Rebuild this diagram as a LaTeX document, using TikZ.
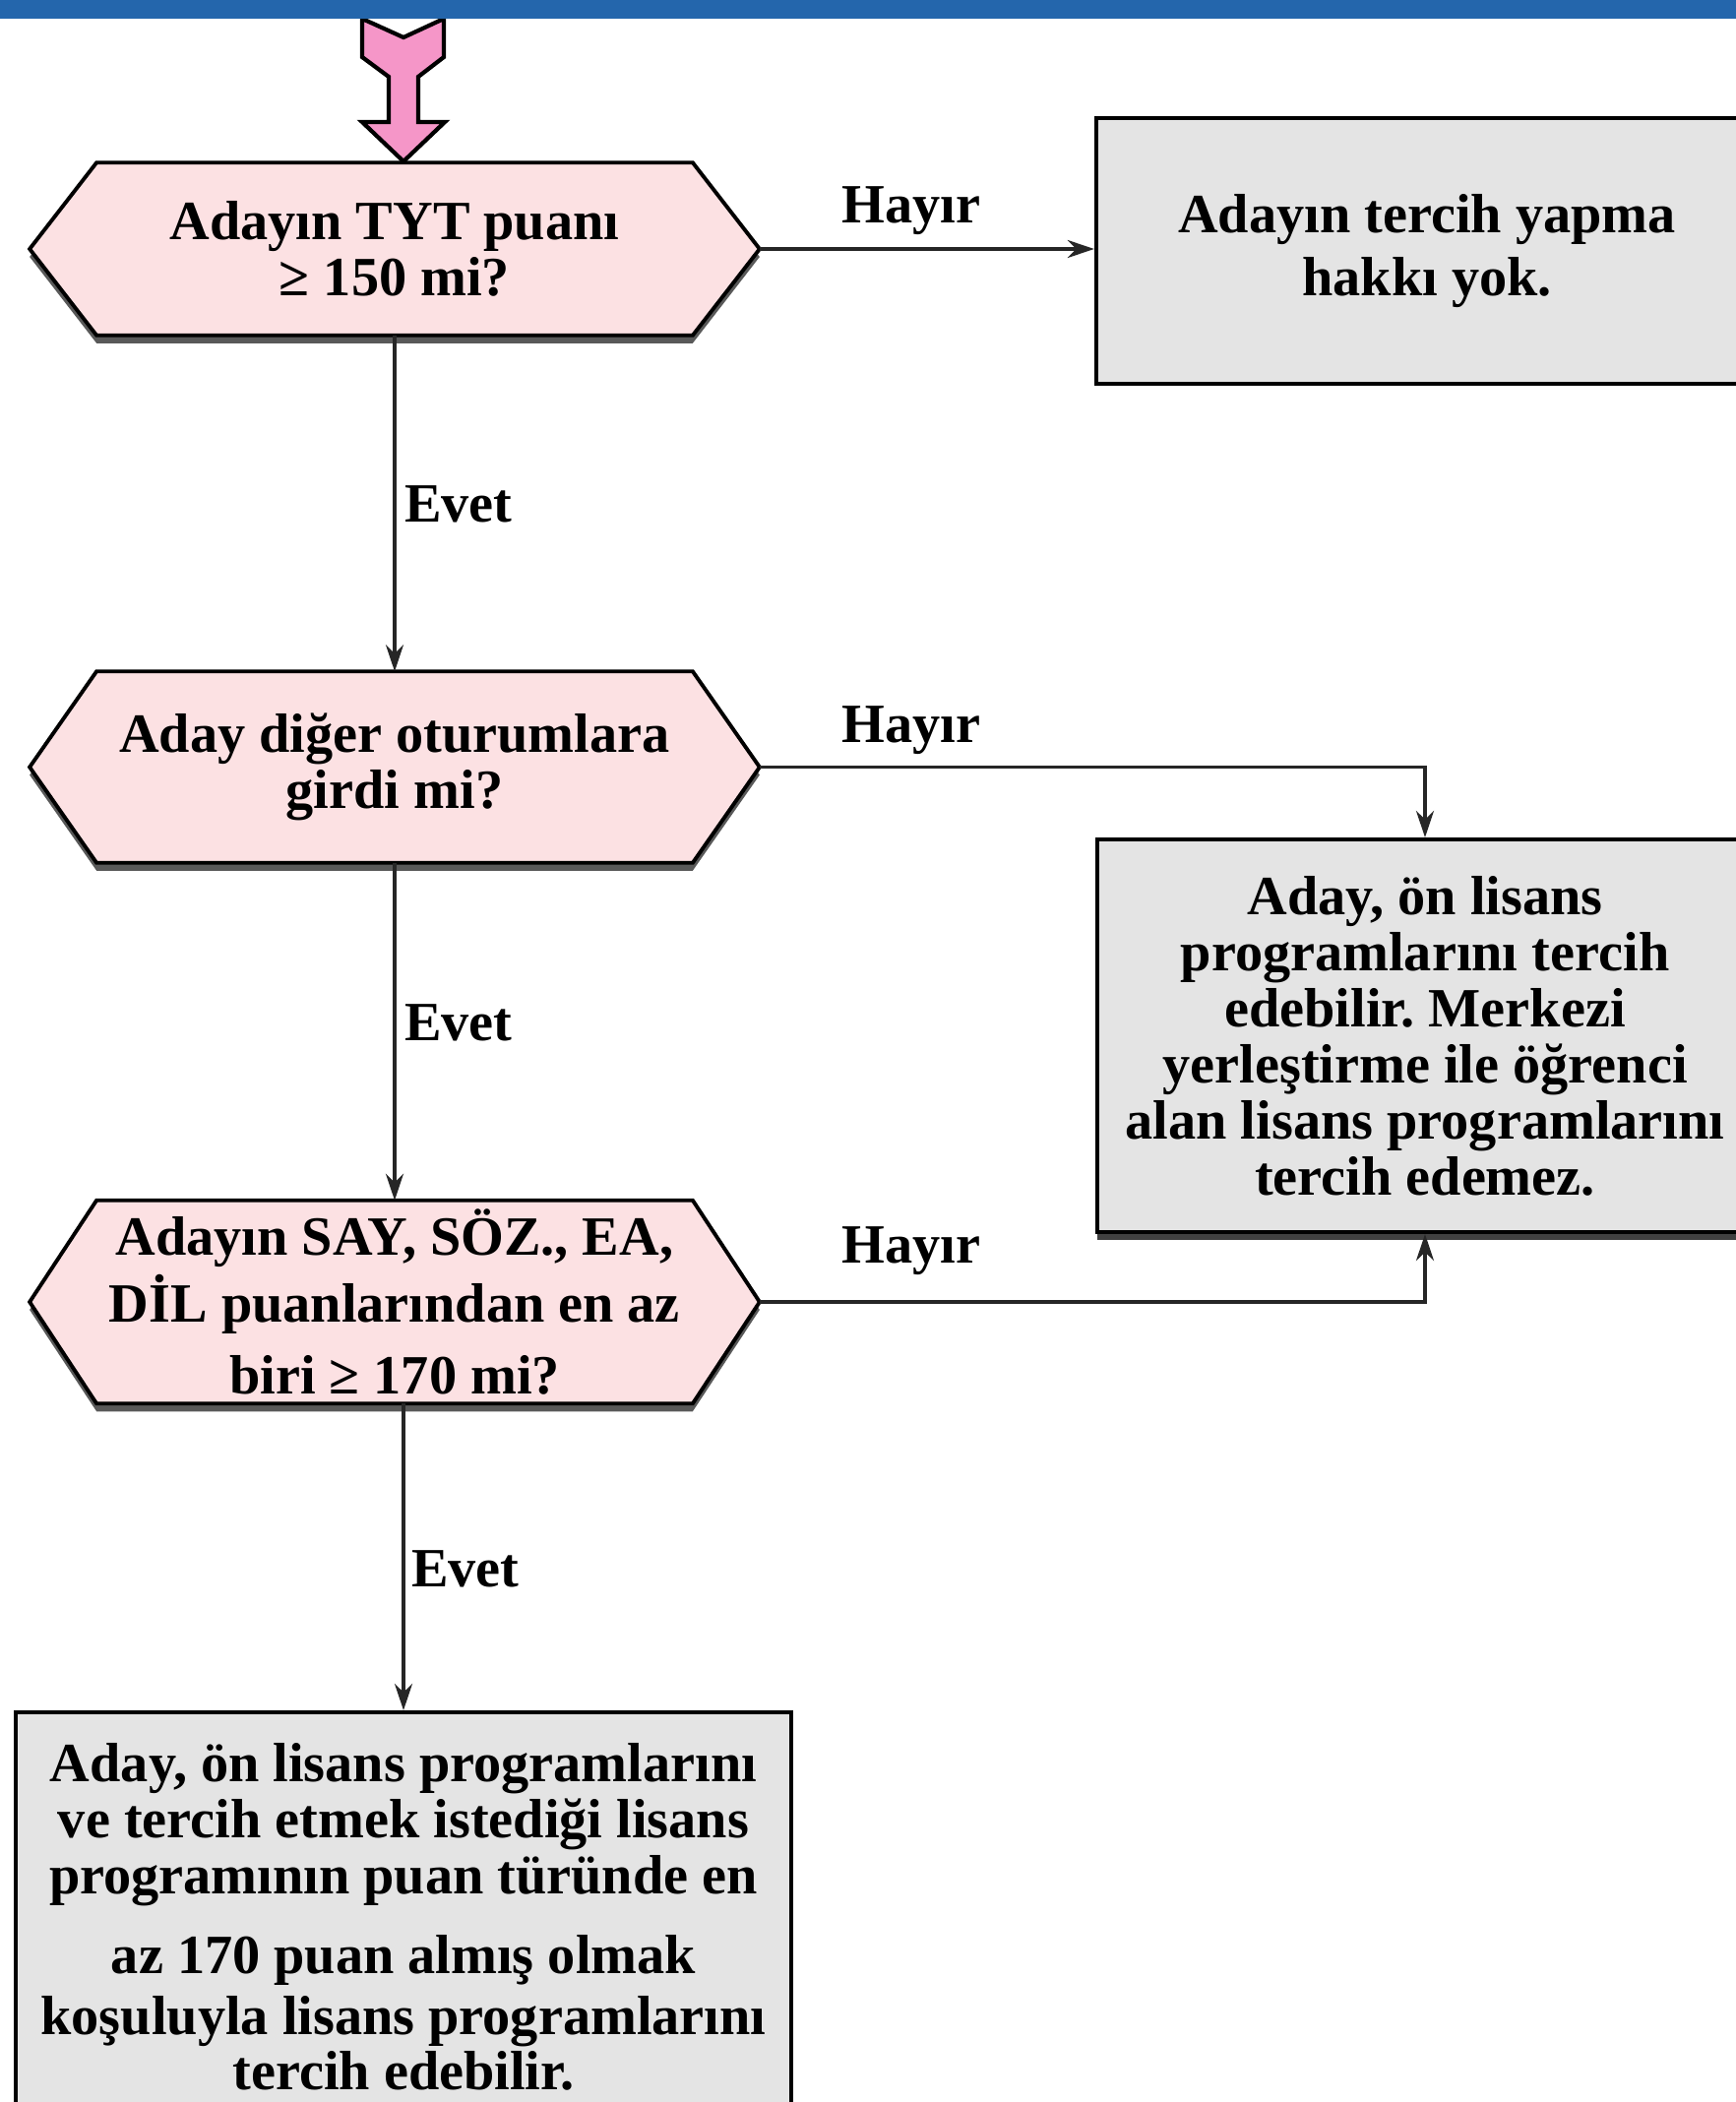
\documentclass[tikz,border=0pt]{standalone}
\usepackage{fontspec}
\setmainfont{Liberation Serif}
\frenchspacing
\usetikzlibrary{calc,arrows.meta,shadows,backgrounds}
\definecolor{bandblue}{RGB}{36,102,172}
\definecolor{hexpink}{RGB}{252,225,227}
\definecolor{boxgray}{RGB}{228,228,228}
\definecolor{arrowpink}{RGB}{245,150,200}
\def\hexshape[#1](#2)(#3){\draw[#1] (#2.north west) -- (#2.north east) -- ($(#2.east)+(#3,0)$) -- (#2.south east) -- (#2.south west) -- ($(#2.west)+(-#3,0)$) -- cycle;}

\begin{document}
\begin{tikzpicture}[x=0.01cm,y=-0.01cm,
	txt/.style={font=\fontsize{16pt}{16.2pt}\selectfont\bfseries, align=center, inner sep=0pt},
	qnode/.style={txt, minimum width=6.04cm},
	qshape/.style={draw=black, line width=1.1pt, fill=hexpink, line join=miter, drop shadow={shadow xshift=0pt, shadow yshift=-0.08cm, fill=black!65, opacity=1}},
	abox/.style={txt, draw=black, line width=1.1pt, fill=boxgray},
	link/.style={draw=black!85, line width=1pt, -{Stealth[length=2.7mm,width=1.8mm]}},
	lbl/.style={font=\fontsize{16pt}{16.2pt}\selectfont\bfseries, inner sep=0pt}]
		%%%%% START %%%%%
		
		\useasboundingbox (0,0) rectangle (1764,2136);
		\clip (0,0) rectangle (1764,2136);
		
		\draw[line width=1.2pt, fill=arrowpink, line join=miter] (368,19) -- (410,38) -- (451,19) -- (451,58) -- (425,78) -- (425,124) -- (452,124) -- (410,164) -- (368,124) -- (395,124) -- (395,78) -- (368,58) -- cycle;
		\fill[bandblue] (0,0) rectangle (1764,19);
		
		\node[qnode, minimum height=1.74cm] (q1) at (401,253) {Adayın TYT puanı\\≥ 150 mi?};
		\node[qnode, minimum height=1.93cm] (q2) at (401,779.5) {Aday diğer oturumlara\\girdi mi?};
		\node[qnode, minimum height=2.05cm] (q3) at (401,1323) {Adayın SAY, SÖZ., EA,\\[1.1pt]DİL puanlarından en az\\[4.5pt]biri ≥ 170 mi?};
		
		\begin{scope}[on background layer]
			\fill[white] (0,0) rectangle (1764,2136);
			\hexshape[qshape](q1)(68)
			\hexshape[qshape](q2)(68)
			\hexshape[qshape](q3)(68)
		\end{scope}
		
		\coordinate (q1r) at ($(q1.east)+(68,0)$);
		\coordinate (q2r) at ($(q2.east)+(68,0)$);
		\coordinate (q3r) at ($(q3.east)+(68,0)$);
		
		\node[abox, minimum width=6.72cm, minimum height=2.7cm] (a1) at (1450,255) {Adayın tercih yapma\\[2.2pt]hakkı yok.};
		\node[abox, minimum width=6.66cm, minimum height=3.99cm, drop shadow={shadow xshift=0pt, shadow yshift=-0.08cm, fill=black!75, opacity=1}] (a2) at (1448,1052.5) {Aday, ön lisans\\programlarını tercih\\edebilir. Merkezi\\yerleştirme ile öğrenci\\alan lisans programlarını\\tercih edemez.};
		\node[abox, minimum width=7.88cm, minimum height=4.16cm] (a3) at (410,1948) {Aday, ön lisans programlarını\\ve tercih etmek istediği lisans\\programının puan türünde en\\[7pt]az 170 puan almış olmak\\[1.2pt]koşuluyla lisans programlarını\\tercih edebilir.};
		
		\draw[link] (q1.south) -- (q2.north);
		\draw[link] (q2.south) -- (q3.north);
		\draw[link] (q3.south -| a3.north) -- (a3.north);
		\draw[link] (q1r) -- (q1r -| a1.west);
		\draw[link] (q2r) -| (a2.north);
		\draw[link] (q3r) -| (a2.south);
		
		\node[lbl] (h1) at (926,214) {Hayır};
		\node[lbl] (h2) at (926,742) {Hayır};
		\node[lbl] (h3) at (926,1271) {Hayır};
		\node[lbl] (e1) at (466,512) {Evet};
		\node[lbl] (e2) at (466,1039) {Evet};
		\node[lbl] (e3) at (473,1594) {Evet};
		
		%%%%% END %%%%%
\end{tikzpicture}
\end{document}
